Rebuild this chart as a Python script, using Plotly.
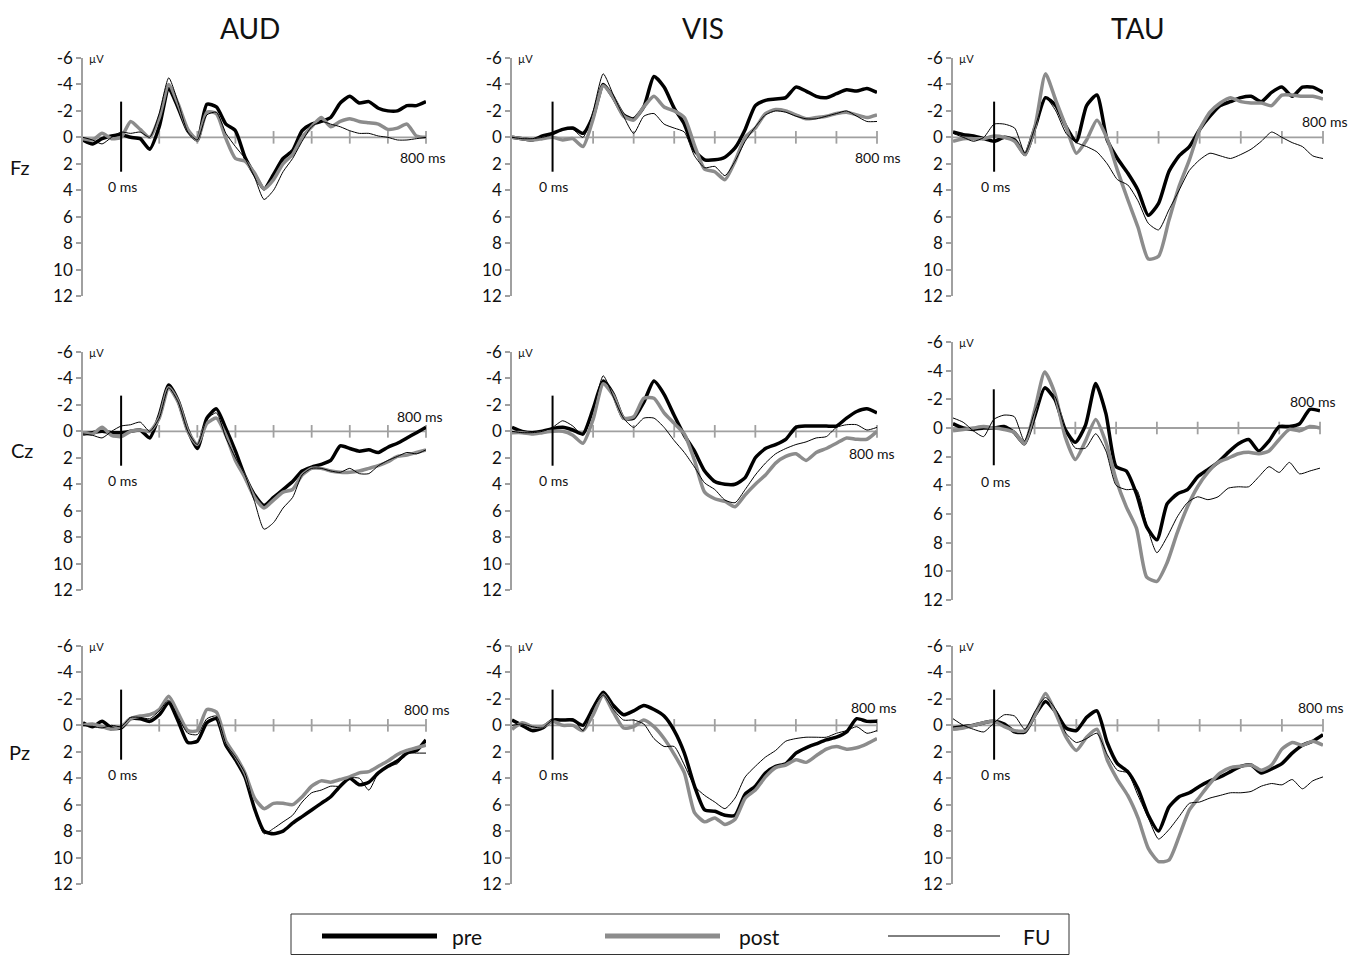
import plotly.graph_objects as go

# ---------------- data ----------------
time_ms = list(range(-100, 801, 25))
conditions = ["AUD", "VIS", "TAU"]
electrodes = ["Fz", "Cz", "Pz"]
y_tick_vals = [-6, -4, -2, 0, 2, 4, 6, 8, 10, 12]
y_tick_text = ["-6", "-4", "-2", "0", "2", "4", "6", "8", "10", "12"]
x_tick_vals = [100, 200, 300, 400, 500, 600, 700, 800]
series_names = ["pre", "post", "FU"]

# AUD
aud_fz_pre = [0.2, 0.5, 0.1, -0.1, -0.2, 0.0, 0.1, 0.9, -0.8, -3.7, -2.2, -0.5, 0.2, -2.5, -2.3, -1.0, -0.5, 1.5, 2.8, 3.9, 2.8, 1.6, 1.0, -0.5, -1.0, -1.2, -1.5, -2.6, -3.1, -2.6, -2.7, -2.2, -2.0, -2.0, -2.4, -2.4, -2.7]
aud_fz_post = [0.1, 0.2, -0.3, 0.1, 0.0, -1.2, -0.6, 0.0, -1.5, -4.0, -2.5, -0.6, 0.2, -1.9, -1.8, 0.1, 1.6, 1.8, 2.7, 3.9, 3.2, 2.0, 1.3, 0.0, -0.8, -1.5, -0.8, -1.2, -1.4, -1.2, -1.1, -1.0, -0.6, -0.7, -1.0, -0.1, 0.0]
aud_fz_fu = [0.0, 0.2, 0.5, 0.0, -0.4, -0.3, -0.4, 0.0, -1.8, -4.5, -2.6, -0.4, 0.2, -1.7, -1.9, -0.3, 0.7, 1.6, 3.0, 4.7, 4.0, 2.6, 1.6, 0.3, -0.8, -1.2, -1.0, -0.8, -0.5, -0.3, -0.3, -0.1, 0.0, 0.2, 0.2, 0.1, 0.0]

aud_cz_pre = [0.2, 0.1, 0.0, 0.1, 0.1, 0.0, -0.1, 0.5, -1.2, -3.5, -2.3, -0.1, 1.3, -1.0, -1.7, -0.2, 1.5, 3.4, 4.8, 5.6, 5.0, 4.4, 3.8, 3.0, 2.7, 2.5, 2.2, 1.1, 1.3, 1.5, 1.4, 1.6, 1.2, 0.9, 0.5, 0.1, -0.3]
aud_cz_post = [0.1, 0.2, -0.3, 0.3, 0.4, 0.0, -0.1, 0.0, -1.0, -3.3, -2.2, 0.0, 1.0, -0.6, -1.0, 0.3, 2.2, 3.5, 5.0, 5.8, 5.2, 4.6, 4.4, 3.3, 2.8, 2.8, 3.0, 3.1, 3.1, 3.0, 2.8, 2.6, 2.3, 1.9, 1.8, 1.6, 1.4]
aud_cz_fu = [0.2, 0.3, 0.5, 0.0, -0.4, -0.5, -0.7, 0.0, -1.0, -3.3, -2.2, 0.0, 1.0, -0.9, -1.4, 0.5, 2.0, 3.3, 5.3, 7.4, 6.9, 5.8, 5.0, 3.3, 2.8, 2.8, 3.0, 3.1, 2.8, 3.2, 3.2, 2.6, 2.2, 1.9, 1.6, 1.7, 1.4]

aud_pz_pre = [-0.2, 0.1, -0.3, 0.2, 0.2, -0.5, -0.5, -0.3, -0.8, -1.7, -0.3, 1.3, 1.2, -0.2, -0.5, 1.5, 2.6, 3.9, 6.3, 8.0, 8.2, 8.0, 7.4, 6.9, 6.4, 5.9, 5.4, 4.6, 4.0, 4.5, 4.3, 3.6, 3.1, 2.7, 2.1, 1.9, 1.1]
aud_pz_post = [0.0, -0.1, 0.1, 0.3, 0.1, -0.5, -0.7, -0.8, -1.2, -2.2, -0.9, 0.4, 0.4, -1.2, -1.0, 1.2, 2.3, 3.6, 5.5, 6.3, 5.9, 5.9, 6.0, 5.4, 4.6, 4.2, 4.3, 4.1, 3.9, 3.6, 3.5, 3.1, 2.7, 2.2, 1.9, 1.7, 1.5]
aud_pz_fu = [0.0, 0.1, 0.2, 0.0, 0.1, -0.6, -0.6, -0.5, -1.1, -1.9, -0.6, 0.6, 0.7, -0.5, -0.7, 1.4, 2.4, 3.6, 6.2, 8.2, 7.8, 7.3, 6.8, 5.8, 5.1, 4.9, 4.6, 4.6, 4.0, 4.0, 4.9, 3.6, 3.1, 2.9, 2.1, 2.1, 2.1]

# VIS
vis_fz_pre = [0.0, 0.1, 0.2, -0.1, -0.3, -0.6, -0.7, -0.3, -1.6, -4.0, -3.0, -1.7, -1.4, -2.3, -4.6, -3.8, -2.2, -1.0, 1.0, 1.7, 1.7, 1.5, 0.8, -0.6, -2.4, -2.8, -2.9, -3.0, -3.8, -3.5, -3.1, -3.0, -3.3, -3.6, -3.5, -3.7, -3.4]
vis_fz_post = [0.0, 0.1, 0.2, 0.1, 0.0, 0.2, 0.1, 0.7, -1.4, -3.9, -3.0, -1.6, -1.3, -2.3, -3.1, -2.3, -2.0, -1.5, 0.6, 2.4, 2.6, 3.2, 1.8, 0.0, -0.7, -1.8, -2.1, -2.0, -1.7, -1.4, -1.5, -1.6, -1.8, -1.9, -1.7, -1.5, -1.7]
vis_fz_fu = [0.0, 0.1, 0.1, 0.0, -0.2, -0.6, -0.6, 0.0, -2.0, -4.8, -3.2, -1.6, -0.3, -1.6, -1.8, -1.0, -0.7, -0.4, 1.4, 2.3, 2.2, 2.9, 1.8, 0.3, -0.8, -1.7, -2.0, -1.9, -1.6, -1.4, -1.4, -1.6, -1.8, -2.0, -1.6, -1.2, -1.2]

vis_cz_pre = [-0.3, 0.0, 0.1, 0.0, -0.2, -0.3, -0.1, 0.2, -1.7, -3.8, -2.8, -1.0, -1.0, -2.2, -3.8, -2.8, -1.2, 0.3, 1.5, 3.0, 3.8, 4.0, 4.0, 3.5, 2.0, 1.3, 1.0, 0.6, -0.3, -0.4, -0.4, -0.4, -0.4, -1.0, -1.5, -1.7, -1.4]
vis_cz_post = [0.1, 0.1, 0.2, 0.1, 0.0, 0.0, 0.3, 0.9, -0.9, -3.6, -2.7, -1.0, -1.1, -2.5, -2.5, -1.4, -0.6, 0.2, 2.2, 4.6, 5.1, 5.3, 5.7, 4.8, 4.0, 3.3, 2.4, 1.9, 1.7, 2.2, 1.6, 1.3, 0.9, 0.5, 0.6, 0.6, 0.0]
vis_cz_fu = [0.0, 0.1, 0.1, 0.0, -0.3, -0.8, -0.4, 0.3, -1.6, -4.2, -2.6, -1.0, -0.3, -1.0, -1.0, -0.3, 0.7, 1.6, 2.7, 3.9, 4.4, 5.2, 5.4, 4.4, 3.3, 2.4, 1.7, 1.3, 1.0, 0.8, 0.5, 0.4, -0.3, -0.5, -0.5, -0.1, -0.3]

vis_pz_pre = [-0.4, 0.0, 0.4, 0.2, -0.4, -0.4, -0.4, 0.0, -1.3, -2.5, -1.5, -0.8, -1.1, -1.5, -1.2, -0.7, 0.4, 2.1, 4.6, 6.4, 6.5, 6.8, 6.8, 5.2, 4.6, 3.6, 3.1, 2.9, 2.1, 1.7, 1.4, 1.1, 0.9, 0.5, -0.5, -0.3, -0.3]
vis_pz_post = [0.3, -0.2, 0.1, 0.1, -0.3, 0.0, 0.0, 0.4, -0.8, -2.3, -1.0, 0.2, 0.1, -0.4, 0.1, 1.0, 2.2, 3.6, 6.6, 7.3, 7.0, 7.5, 7.1, 5.5, 4.9, 3.9, 3.2, 3.0, 2.6, 2.8, 2.3, 1.8, 1.6, 1.8, 1.7, 1.4, 1.0]
vis_pz_fu = [0.0, -0.1, 0.1, 0.2, -0.4, -0.4, -0.5, 0.4, -1.3, -2.3, -1.2, -0.4, -0.4, -0.1, 1.0, 1.6, 1.6, 3.0, 4.6, 5.3, 5.8, 6.3, 5.5, 3.9, 3.1, 2.4, 1.9, 1.2, 1.0, 0.9, 0.9, 0.9, 0.6, 0.4, 0.1, 0.6, 0.4]

# TAU
tau_fz_pre = [-0.4, -0.2, -0.1, 0.1, 0.3, 0.0, 0.2, 1.3, -0.8, -3.0, -2.4, -0.8, 0.3, -2.4, -3.2, 0.2, 1.6, 2.7, 4.0, 5.9, 5.0, 2.6, 1.4, 0.7, -0.6, -1.6, -2.4, -2.7, -3.0, -3.1, -2.7, -3.4, -3.8, -3.1, -3.8, -3.8, -3.4]
tau_fz_post = [0.3, 0.1, 0.1, 0.1, -0.1, 0.0, 0.3, 1.3, -0.9, -4.8, -2.8, -0.8, 1.2, 0.2, -1.3, 0.1, 2.5, 4.7, 6.8, 9.2, 9.0, 6.3, 3.7, 1.7, -0.6, -1.9, -2.6, -3.0, -2.7, -2.6, -2.6, -2.4, -3.2, -3.2, -3.1, -3.1, -2.9]
tau_fz_fu = [-0.3, 0.0, 0.3, 0.0, -1.0, -1.0, -0.7, 1.2, -0.8, -3.0, -2.0, -0.3, 0.4, 0.7, 1.1, 2.0, 3.2, 3.6, 4.8, 6.5, 7.0, 5.5, 4.0, 2.5, 1.7, 1.2, 1.4, 1.6, 1.3, 0.9, 0.3, -0.4, 0.0, 0.4, 0.7, 1.4, 1.6]

tau_cz_pre = [-0.3, 0.0, 0.1, 0.0, 0.0, -0.1, 0.3, 1.1, -0.8, -2.8, -2.0, 0.1, 1.0, -0.2, -3.1, -1.0, 2.7, 3.0, 4.6, 6.9, 7.8, 5.3, 4.6, 4.3, 3.4, 2.9, 2.4, 1.7, 1.1, 0.8, 1.6, 0.9, -0.1, -0.1, -0.3, -1.3, -1.2]
tau_cz_post = [0.2, 0.1, 0.0, -0.1, 0.0, 0.1, 0.3, 1.1, -1.2, -3.9, -2.4, 0.6, 2.2, 0.9, -0.6, 1.0, 3.6, 5.5, 7.0, 10.4, 10.7, 9.4, 7.3, 5.5, 4.1, 3.1, 2.4, 2.1, 1.8, 1.7, 1.8, 1.6, 0.8, 0.1, 0.2, -0.1, 0.0]
tau_cz_fu = [-0.7, -0.4, 0.2, 0.6, -0.6, -0.9, -0.8, 0.9, -1.1, -2.7, -2.2, 0.1, 1.4, 1.4, 0.4, 1.6, 4.0, 4.3, 4.3, 6.8, 8.7, 7.6, 6.2, 5.2, 4.8, 5.0, 4.8, 4.2, 4.1, 4.1, 3.4, 2.7, 3.1, 2.4, 3.2, 3.0, 2.8]

tau_pz_pre = [0.2, 0.1, 0.0, -0.2, -0.3, -0.1, 0.5, 0.5, -0.8, -1.8, -1.0, 0.2, 0.4, -0.6, -1.1, 1.3, 2.9, 3.5, 4.8, 6.8, 8.0, 6.2, 5.4, 5.1, 4.6, 4.2, 3.9, 3.5, 3.1, 3.0, 3.6, 3.3, 2.9, 2.1, 1.5, 1.2, 0.7]
tau_pz_post = [0.3, 0.2, 0.0, -0.2, -0.3, 0.1, 0.4, 0.4, -0.8, -2.4, -0.9, 0.9, 1.9, 0.9, 0.3, 2.6, 4.1, 5.3, 7.0, 9.3, 10.3, 10.2, 8.4, 6.4, 5.4, 4.4, 3.6, 3.2, 3.1, 3.0, 3.4, 3.0, 1.8, 1.3, 1.5, 1.2, 1.5]
tau_pz_fu = [-0.5, 0.0, 0.3, 0.5, -0.2, -0.8, -0.7, 0.3, -1.1, -2.1, -1.2, 0.6, 1.3, 1.0, 0.6, 2.2, 3.4, 3.6, 5.3, 7.0, 8.6, 7.9, 6.9, 5.9, 5.8, 5.5, 5.3, 5.1, 5.1, 5.0, 4.6, 4.4, 4.5, 4.1, 4.8, 4.2, 3.9]

waves = {
    ("Fz", "AUD"): (aud_fz_pre, aud_fz_post, aud_fz_fu),
    ("Fz", "VIS"): (vis_fz_pre, vis_fz_post, vis_fz_fu),
    ("Fz", "TAU"): (tau_fz_pre, tau_fz_post, tau_fz_fu),
    ("Cz", "AUD"): (aud_cz_pre, aud_cz_post, aud_cz_fu),
    ("Cz", "VIS"): (vis_cz_pre, vis_cz_post, vis_cz_fu),
    ("Cz", "TAU"): (tau_cz_pre, tau_cz_post, tau_cz_fu),
    ("Pz", "AUD"): (aud_pz_pre, aud_pz_post, aud_pz_fu),
    ("Pz", "VIS"): (vis_pz_pre, vis_pz_post, vis_pz_fu),
    ("Pz", "TAU"): (tau_pz_pre, tau_pz_post, tau_pz_fu),
}

# ---------------- layout helpers ----------------
OFF = 8                      # default page body margin
W, H = 1363 - 2 * OFF, 964 - 2 * OFF

def px(x):
    return (x - OFF) / W

def py(y):
    return 1 - (y - OFF) / H

FONT = "Lato, 'Open Sans', sans-serif"
AXIS_GREY = "#a0a0a0"
POST_GREY = "#8c8c8c"
TXT = "#111111"

# pixel boxes of each panel: (left, right, top(-6), bottom(12))
boxes = {
    ("Fz", "AUD"): (83, 426, 58, 296),
    ("Fz", "VIS"): (512, 877, 58, 296),
    ("Fz", "TAU"): (953, 1323, 58, 296),
    ("Cz", "AUD"): (83, 426, 352, 590),
    ("Cz", "VIS"): (512, 877, 352, 590),
    ("Cz", "TAU"): (953, 1320, 342, 600),
    ("Pz", "AUD"): (83, 426, 646, 884),
    ("Pz", "VIS"): (512, 877, 646, 884),
    ("Pz", "TAU"): (953, 1323, 646, 884),
}
# "800 ms" label centres (pixels)
label800 = {
    ("Fz", "AUD"): (423, 157), ("Fz", "VIS"): (878, 157), ("Fz", "TAU"): (1325, 122),
    ("Cz", "AUD"): (420, 416), ("Cz", "VIS"): (872, 453), ("Cz", "TAU"): (1313, 402),
    ("Pz", "AUD"): (427, 709), ("Pz", "VIS"): (874, 707), ("Pz", "TAU"): (1321, 707),
}

styles = [
    dict(color="black", width=3.5),
    dict(color=POST_GREY, width=3.5),
    dict(color="black", width=1),
]

def note(text, x, y, size, xanchor="center", yanchor="middle", xref="paper", yref="paper"):
    return dict(text=text, xref=xref, yref=yref, x=x, y=y, xanchor=xanchor, yanchor=yanchor,
                showarrow=False, font=dict(size=size, family=FONT, color=TXT))

fig = go.Figure()
layout = dict(
    width=W, height=H, margin=dict(l=0, r=0, t=0, b=0, autoexpand=False),
    paper_bgcolor="white", plot_bgcolor="white",
    showlegend=False, font=dict(family=FONT, color=TXT),
)
shapes, annotations = [], []

idx = 0
for ri, el in enumerate(electrodes):
    for ci, cond in enumerate(conditions):
        idx += 1
        xa = "x" if idx == 1 else f"x{idx}"
        ya = "y" if idx == 1 else f"y{idx}"
        xkey = "xaxis" if idx == 1 else f"xaxis{idx}"
        ykey = "yaxis" if idx == 1 else f"yaxis{idx}"
        l, r, t, b = boxes[(el, cond)]
        layout[xkey] = dict(domain=[px(l), px(r)], range=[-100, 800], anchor=ya,
                            visible=False, fixedrange=True)
        layout[ykey] = dict(domain=[py(b), py(t)], range=[12, -6], anchor=xa,
                            showline=True, linecolor=AXIS_GREY, linewidth=1.5,
                            ticks="outside", ticklen=5, tickcolor=AXIS_GREY, tickwidth=1.5,
                            tickvals=y_tick_vals, ticktext=y_tick_text,
                            showgrid=False, zeroline=False,
                            tickfont=dict(size=17, family=FONT, color=TXT),
                            fixedrange=True)
        # zero line (x axis)
        shapes.append(dict(type="line", xref=xa, yref=ya, x0=-100, x1=800, y0=0, y1=0,
                           line=dict(color=AXIS_GREY, width=1.8), layer="below"))
        # stimulus onset marker
        shapes.append(dict(type="line", xref=xa, yref=ya, x0=0, x1=0, y0=-2.7, y1=2.6,
                           line=dict(color="black", width=2), layer="above"))
        # x tick marks crossing the zero line
        fig.add_trace(go.Scatter(x=x_tick_vals, y=[0] * len(x_tick_vals), mode="markers",
                                 xaxis=xa, yaxis=ya, cliponaxis=False, hoverinfo="skip",
                                 marker=dict(symbol="line-ns", size=9,
                                             line=dict(color=AXIS_GREY, width=1.8))))
        for name, vals, st in zip(series_names, waves[(el, cond)], styles):
            fig.add_trace(go.Scatter(x=time_ms, y=vals, mode="lines", name=name,
                                     xaxis=xa, yaxis=ya,
                                     line=dict(shape="spline", smoothing=0.6, **st)))
        # texts
        annotations.append(note("0 ms", 3, 3.7, 14, xref=xa, yref=ya))
        lx, ly = label800[(el, cond)]
        annotations.append(note("800 ms", px(lx), py(ly), 14))
        annotations.append(note("µV", px(l + 4), py(t), 11, xanchor="left"))

# column titles
for cond, cx in zip(conditions, [250, 703, 1138]):
    annotations.append(note(cond, px(cx), py(9), 28, yanchor="top"))
# row labels
for el, (rx, ry) in zip(electrodes, [(20, 167), (22, 450), (19, 752)]):
    annotations.append(note(el, px(rx), py(ry), 20))

# legend box
shapes.append(dict(type="rect", xref="paper", yref="paper", x0=px(291), x1=px(1069),
                   y0=py(954.5), y1=py(914), line=dict(color="#333", width=1)))
leg_items = [(322, 437, 450), (605, 720, 737), (888, 1000, 1021)]
for name, st, (a, b2, tx) in zip(series_names, styles, leg_items):
    w = 5 if st["width"] > 2 else 1
    shapes.append(dict(type="line", xref="paper", yref="paper", x0=px(a), x1=px(b2),
                       y0=py(936), y1=py(936), line=dict(color=st["color"], width=w)))
    annotations.append(note(name, px(tx), py(936), 21, xanchor="left"))

layout["shapes"] = shapes
layout["annotations"] = annotations
fig.update_layout(**layout)
fig.write_html("out.html")
